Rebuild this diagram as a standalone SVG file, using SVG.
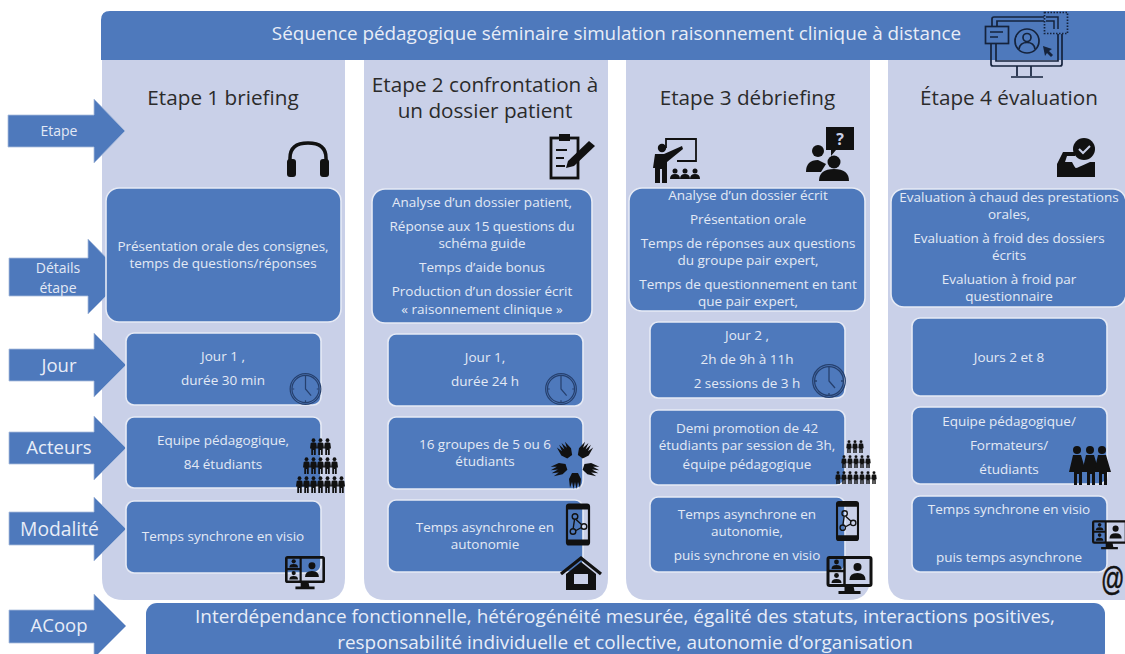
<svg xmlns="http://www.w3.org/2000/svg" xmlns:xlink="http://www.w3.org/1999/xlink" width="1125" height="654" viewBox="0 0 1125 654">
<style>
text{font-family:"Open Sans","Noto Sans","Liberation Sans",sans-serif;text-anchor:middle}
.col{fill:#c9d0e8}
.box{fill:#4e79bc;stroke:#e6eaf5;stroke-width:1.6}
.arr{fill:#4e79bc;stroke:#a9bcdc;stroke-width:.8}
.t{fill:#e3e9f5;font-size:13.5px}
.a{fill:#e3e9f5;font-size:14px}
.h{fill:#2b2b2b;font-size:20.7px}
.l{fill:#e8edf7;font-size:18.5px}
.b{fill:#e8edf7;font-size:18.95px}
.k{fill:#111}
.c{fill:none;stroke:#26406e;stroke-width:1.3}
</style>
<defs>
<symbol id="clock" viewBox="0 0 34 34" overflow="visible"><circle class="c" cx="17" cy="17" r="16.3"/><circle class="c" cx="17" cy="17" r="14.4"/><path class="c" d="M17 5V17L23 24M17 3v2M17 29v2M3 17h2M29 17h2"/></symbol>
<symbol id="person" viewBox="0 0 10 24" overflow="visible"><circle class="k" cx="5" cy="3" r="2.7"/><path class="k" d="M1 7Q5 5 9 7L10 15H8.2V24H5.6V17H4.4V24H1.8V15H0Z"/></symbol>
<symbol id="visio" viewBox="0 0 46 40" overflow="visible"><rect x="1.5" y="1.5" width="43" height="28" rx="1.5" fill="none" stroke="#111" stroke-width="3"/><path d="M18 2V29M2 15H18" stroke="#111" stroke-width="2.5"/><path class="k" d="M18 30h9l1 5h6v3H12v-3h6z"/><circle class="k" cx="10" cy="6" r="2.4"/><path class="k" d="M5 13q0-4 5-4t5 4z"/><circle class="k" cx="10" cy="19.500" r="2.400"/><path class="k" d="M5 27q0-4 5-4t5 4z"/><circle class="k" cx="31" cy="11" r="4"/><path class="k" d="M23 24q0-7 8-7t8 7z"/></symbol>
<symbol id="phone" viewBox="0 0 24 42" overflow="visible"><rect x="1" y="1" width="22" height="40" rx="2" fill="none" stroke="#111" stroke-width="2.2"/><path class="k" d="M1 1h22v5H1zM1 36h22v5H1z"/><g fill="none" stroke="#111" stroke-width="1.4"><circle cx="9" cy="13" r="2.800"/><circle cx="18" cy="23" r="2.800"/><circle cx="7" cy="28" r="2.800"/><path d="M10 16L15.500 21M15.500 24L10 27M8.500 16L7.200 25"/></g></symbol>
<path id="hand" class="k" d="M-3 9L3 9L6 15L5 24L3 18L1.500 25L0 18L-1.500 25L-3 18L-5 24L-6 15Z"/>
</defs>

<g id="connectors"></g>

<g id="columns">
<path class="col" d="M102 60H345V578Q345 600 323 600H124Q102 600 102 578Z"/>
<path class="col" d="M364 60H608V578Q608 600 586 600H386Q364 600 364 578Z"/>
<path class="col" d="M626 60H870V578Q870 600 848 600H648Q626 600 626 578Z"/>
<path class="col" d="M888 60H1125V600H910Q888 600 888 578Z"/>
</g>

<g id="title">
<path d="M101 60V20Q101 11 110 11H1125V60Z" fill="#4e79bc"/>
<text x="616.500" y="40" fill="#e8edf7" font-size="18.850">Séquence pédagogique séminaire simulation raisonnement clinique à distance</text>
<g fill="none" stroke="#15233c" stroke-width="1.700">
<path d="M992 26V19Q992 17 994 17H1044M1062 34V64Q1062 66 1060 66H993Q991 66 991 64V43M997 26V21H1044M1058 34V61H996V43M1017 66V76M1031 66V76M1011 77H1043"/>
<rect x="985.500" y="26.500" width="23" height="17" fill="#4e79bc"/><path d="M990 32h13M990 37h8"/>
<circle cx="1027" cy="41" r="12"/><circle cx="1027" cy="37.500" r="4"/><path d="M1019 49q1-6.500 8-6.500t8 6.500"/>
<rect x="1044.500" y="12.500" width="23" height="21" stroke-dasharray="1.500 1.500"/>
<path d="M1046 17h12v12M1046 21h8v8" stroke-width="1.500"/>
</g>
<path d="M1043 46l9 3-3 2 4 4-2 2-4-4-2 3z" fill="#15233c"/>
</g>

<g id="arrows">
<g id="arrow-etape"><path class="arr" d="M8 115H94V99L125 131L94 163V147H8Z"/><text class="a" x="59" y="136">Etape</text></g>
<g id="arrow-details"><path class="arr" d="M9 258H88V239L125 277L88 314V296H9Z"/><text class="a" x="58" y="273">Détails</text><text class="a" x="58" y="293">étape</text></g>
<g id="arrow-jour"><path class="arr" d="M9 349H94V333L126 365L94 397V381H9Z"/><text class="l" x="59" y="372">Jour</text></g>
<g id="arrow-acteurs"><path class="arr" d="M9 432H94V416L126 448L94 480V464H9Z"/><text class="l" x="59" y="454">Acteurs</text></g>
<g id="arrow-modalite"><path class="arr" d="M9 512H94V497L126 529L94 561V545H9Z"/><text class="l" x="59.500" y="536" style="font-size:19.300px">Modalité</text></g>
<g id="arrow-acoop"><path class="arr" d="M9 610H94V594L126 626L94 658V643H9Z"/><text class="l" x="59" y="632">ACoop</text></g>
</g>

<g id="etape1">
<text class="h" x="223" y="105">Etape 1 briefing</text>
<g id="icon-headphones"><path d="M290 168V158Q290 143 308 143T326 158V168" fill="none" stroke="#111" stroke-width="3.500"/><rect class="k" x="287" y="159" width="9" height="18" rx="3"/><rect class="k" x="320" y="159" width="9" height="18" rx="3"/></g>
<g id="e1-details"><rect class="box" x="106" y="188" width="235" height="134" rx="13"/><text class="t" x="223" y="251">Présentation orale des consignes,</text><text class="t" x="223" y="268">temps de questions/réponses</text></g>
<g id="e1-jour"><rect class="box" x="126" y="333" width="195" height="72" rx="8"/><text class="t" x="223" y="361">Jour 1 ,</text><text class="t" x="223" y="385">durée 30 min</text><use xlink:href="#clock" x="288" y="373" width="35" height="32"/></g>
<g id="e1-acteurs"><rect class="box" x="126" y="417" width="195" height="71" rx="8"/><text class="t" x="223" y="445">Equipe pédagogique,</text><text class="t" x="223" y="469">84 étudiants</text>
<g id="crowd1"><use xlink:href="#person" x="310" y="438" width="7" height="17"/><use xlink:href="#person" x="317" y="438" width="7" height="17"/><use xlink:href="#person" x="324" y="438" width="7" height="17"/><use xlink:href="#person" x="303" y="457" width="7" height="17"/><use xlink:href="#person" x="310" y="457" width="7" height="17"/><use xlink:href="#person" x="317" y="457" width="7" height="17"/><use xlink:href="#person" x="324" y="457" width="7" height="17"/><use xlink:href="#person" x="331" y="457" width="7" height="17"/><use xlink:href="#person" x="296" y="476" width="7" height="17"/><use xlink:href="#person" x="303" y="476" width="7" height="17"/><use xlink:href="#person" x="310" y="476" width="7" height="17"/><use xlink:href="#person" x="317" y="476" width="7" height="17"/><use xlink:href="#person" x="324" y="476" width="7" height="17"/><use xlink:href="#person" x="331" y="476" width="7" height="17"/><use xlink:href="#person" x="338" y="476" width="7" height="17"/></g></g>
<g id="e1-modalite"><rect class="box" x="126" y="501" width="195" height="72" rx="8"/><text class="t" x="223" y="541">Temps synchrone en visio</text><use xlink:href="#visio" x="285" y="556" width="40" height="35"/></g>
</g>

<g id="etape2">
<text class="h" x="485" y="92">Etape 2 confrontation à</text><text class="h" x="485" y="118">un dossier patient</text>
<g id="icon-dossier"><rect x="551" y="138" width="27" height="40" fill="none" stroke="#111" stroke-width="2.800"/><rect class="k" x="559" y="134" width="11" height="7"/><path d="M556 150h11M556 158h8M556 166h9" stroke="#111" stroke-width="2"/><path class="k" d="M566 168l2-7 21-20 6 5-21 20z"/></g>
<g id="e2-details"><rect class="box" x="372" y="189" width="220" height="134" rx="13"/><text class="t" x="482" y="207">Analyse d’un dossier patient,</text><text class="t" x="482" y="231">Réponse aux 15 questions du</text><text class="t" x="482" y="248">schéma guide</text><text class="t" x="482" y="272">Temps d’aide bonus</text><text class="t" x="482" y="296">Production d’un dossier écrit</text><text class="t" x="482" y="314">« raisonnement clinique »</text></g>
<g id="e2-jour"><rect class="box" x="388" y="334" width="195" height="72" rx="8"/><text class="t" x="485" y="362">Jour 1,</text><text class="t" x="485" y="386">durée 24 h</text><use xlink:href="#clock" x="545" y="373" width="32" height="32"/></g>
<g id="e2-acteurs"><rect class="box" x="388" y="417" width="195" height="72" rx="8"/><text class="t" x="485" y="449">16 groupes de 5 ou 6</text><text class="t" x="485" y="466">étudiants</text>
<g id="icon-hands"><use xlink:href="#hand" transform="translate(575 464)"/><use xlink:href="#hand" transform="translate(575 464) rotate(72)"/><use xlink:href="#hand" transform="translate(575 464) rotate(144)"/><use xlink:href="#hand" transform="translate(575 464) rotate(216)"/><use xlink:href="#hand" transform="translate(575 464) rotate(288)"/></g></g>
<g id="e2-modalite"><rect class="box" x="388" y="500" width="195" height="72" rx="8"/><text class="t" x="485" y="532">Temps asynchrone en</text><text class="t" x="485" y="549">autonomie</text><use xlink:href="#phone" x="566" y="503" width="24" height="43"/>
<g id="icon-home"><path d="M561 574L581 558L601 574" fill="none" stroke="#111" stroke-width="3.200"/><path class="k" d="M566 574L581 562L596 574V590H566Z"/><rect x="574" y="574" width="14" height="10" fill="#c9d0e8"/></g></g>
</g>

<g id="etape3">
<text class="h" x="747.500" y="105">Etape 3 débriefing</text>
<g id="icon-teacher"><path d="M666 148V139H696V161H677" fill="none" stroke="#111" stroke-width="1.800"/><circle class="k" cx="662" cy="148" r="4.200"/><path class="k" d="M655 154H664L682 146L683 149L667 162V183H662V169H660V183H655V168L653 168Z"/><g class="k"><circle cx="675" cy="171" r="2.500"/><path d="M670 179q0-5 5-5t5 5z"/><circle cx="685" cy="171" r="2.500"/><path d="M680 179q0-5 5-5t5 5z"/><circle cx="695" cy="171" r="2.500"/><path d="M690 179q0-5 5-5t5 5z"/></g></g>
<g id="icon-question"><path class="k" d="M826 127H854V150H836L831 156V150H826Z"/><text x="840" y="145" font-size="16" font-weight="700" fill="#c9d0e8">?</text><circle class="k" cx="818" cy="151" r="6"/><path class="k" d="M806 172q0-12 12-12l8 4-5 8z"/><circle class="k" cx="834" cy="162" r="6.500"/><path class="k" d="M819 181q0-12 15-12t15 12z"/></g>
<g id="e3-details"><rect class="box" x="629" y="188" width="236" height="123" rx="13"/><text class="t" x="748" y="200">Analyse d’un dossier écrit</text><text class="t" x="748" y="224">Présentation orale</text><text class="t" x="748" y="248">Temps de réponses aux questions</text><text class="t" x="748" y="265">du groupe pair expert,</text><text class="t" x="748" y="289">Temps de questionnement en tant</text><text class="t" x="748" y="306">que pair expert,</text></g>
<g id="e3-jour"><rect class="box" x="650" y="322" width="195" height="76" rx="8"/><text class="t" x="747" y="340">Jour 2 ,</text><text class="t" x="747" y="364">2h de 9h à 11h</text><text class="t" x="747" y="388">2 sessions de 3 h</text><use xlink:href="#clock" x="812" y="364" width="34" height="34"/></g>
<g id="e3-acteurs"><rect class="box" x="650" y="410" width="195" height="75" rx="8"/><text class="t" x="747" y="433">Demi promotion de 42</text><text class="t" x="747" y="450">étudiants par session de 3h,</text><text class="t" x="747" y="469">équipe pédagogique</text>
<g id="crowd2"><use xlink:href="#person" x="846" y="440" width="6" height="13"/><use xlink:href="#person" x="852" y="440" width="6" height="13"/><use xlink:href="#person" x="858" y="440" width="6" height="13"/><use xlink:href="#person" x="841" y="455" width="6" height="13"/><use xlink:href="#person" x="847" y="455" width="6" height="13"/><use xlink:href="#person" x="853" y="455" width="6" height="13"/><use xlink:href="#person" x="859" y="455" width="6" height="13"/><use xlink:href="#person" x="865" y="455" width="6" height="13"/><use xlink:href="#person" x="835" y="471" width="6" height="13"/><use xlink:href="#person" x="841" y="471" width="6" height="13"/><use xlink:href="#person" x="847" y="471" width="6" height="13"/><use xlink:href="#person" x="853" y="471" width="6" height="13"/><use xlink:href="#person" x="859" y="471" width="6" height="13"/><use xlink:href="#person" x="865" y="471" width="6" height="13"/><use xlink:href="#person" x="871" y="471" width="6" height="13"/></g></g>
<g id="e3-modalite"><rect class="box" x="650" y="497" width="195" height="75" rx="8"/><text class="t" x="747" y="519">Temps asynchrone en</text><text class="t" x="747" y="536">autonomie,</text><text class="t" x="747" y="560">puis synchrone en visio</text><use xlink:href="#phone" x="835" y="501" width="25" height="40"/><use xlink:href="#visio" x="826" y="556" width="47" height="40"/></g>
</g>

<g id="etape4">
<text class="h" x="1009" y="105">Étape 4 évaluation</text>
<g id="icon-inbox"><path class="k" d="M1057 177V164L1063 152H1075V156H1067L1065 162H1072Q1075 168 1076 168T1090 162H1095V177Z"/><circle class="k" cx="1084" cy="149" r="11"/><path d="M1079 149l4 4 7-7" fill="none" stroke="#c9d0e8" stroke-width="2"/></g>
<g id="e4-details"><rect class="box" x="891" y="189" width="235" height="118" rx="13"/><text class="t" x="1009" y="202">Evaluation à chaud des prestations</text><text class="t" x="1009" y="219">orales,</text><text class="t" x="1009" y="243">Evaluation à froid des dossiers</text><text class="t" x="1009" y="260">écrits</text><text class="t" x="1009" y="284">Evaluation à froid par</text><text class="t" x="1009" y="301">questionnaire</text></g>
<g id="e4-jour"><rect class="box" x="912" y="318" width="195" height="78" rx="8"/><text class="t" x="1009" y="362">Jours 2 et 8</text></g>
<g id="e4-acteurs"><rect class="box" x="912" y="407" width="195" height="77" rx="8"/><text class="t" x="1009" y="426">Equipe pédagogique/</text><text class="t" x="1009" y="450">Formateurs/</text><text class="t" x="1009" y="474">étudiants</text>
<g id="icon-women" class="k"><circle cx="1077" cy="450" r="4"/><path d="M1073 455h8l5 17h-4v13h-3v-11h-2v11h-3v-13h-5z"/><circle cx="1090" cy="450" r="4"/><path d="M1086 455h8l5 17h-4v13h-3v-11h-2v11h-3v-13h-5z"/><circle cx="1102" cy="450" r="4"/><path d="M1098 455h8l5 17h-4v13h-3v-11h-2v11h-3v-13h-5z"/></g></g>
<g id="e4-modalite"><rect class="box" x="912" y="496" width="195" height="76" rx="8"/><text class="t" x="1009" y="514">Temps synchrone en visio</text><text class="t" x="1009" y="562">puis temps asynchrone</text><use xlink:href="#visio" x="1092" y="519" width="35" height="33"/>
<text transform="translate(1101 590) scale(.68 1)" font-size="34" fill="#111" stroke="#111" stroke-width=".6" style="text-anchor:start;font-family:'Liberation Sans',sans-serif">@</text></g>
</g>

<g id="acoop">
<rect x="146" y="603" width="959" height="60" rx="11" fill="#4e79bc"/>
<text class="b" x="625" y="623">Interdépendance fonctionnelle, hétérogénéité mesurée, égalité des statuts, interactions positives,</text>
<text class="b" x="625" y="649">responsabilité individuelle et collective, autonomie d’organisation</text>
</g>
</svg>
